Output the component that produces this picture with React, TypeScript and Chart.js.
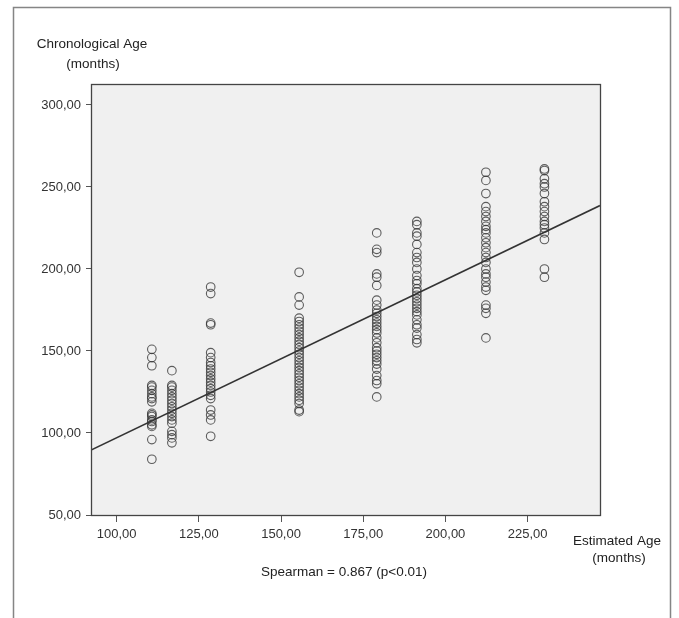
import React, { useEffect, useRef } from "react";
import { Chart, registerables } from "chart.js";

Chart.register(...registerables);

// Estimated age (months) for each group column
const estimatedAges = [110.7, 116.8, 128.6, 155.5, 179.1, 191.3, 212.3, 230.1];

// Chronological ages (months) read per column
const col1 = [151, 146, 141, 129, 128, 126, 124, 122, 121, 119, 112, 111, 110, 108, 107, 105, 104, 96, 84];
const col2 = [138, 129, 128, 126, 124, 122, 120, 118, 116, 114, 112, 110, 108, 106, 101, 99, 97, 94];
const col3 = [189, 185, 167, 166, 149, 146, 143, 141, 139, 137, 135, 133, 131, 129, 127, 125, 123, 121, 114, 111, 108, 98];
const col4 = [198, 183, 178, 170, 168, 166, 164, 162, 160, 158, 156, 154, 152, 150, 148, 146, 144, 142, 140, 138, 136, 134, 132, 130, 128, 126, 124, 122, 120, 118, 114, 113];
const col5 = [222, 212, 210, 197, 195, 190, 181, 178, 175, 173, 171, 169, 167, 165, 163, 161, 158, 155, 152, 150, 148, 146, 144, 142, 139, 135, 132, 130, 122];
const col6 = [229, 227, 222, 220, 215, 210, 207, 204, 200, 196, 193, 191, 188, 186, 184, 182, 180, 178, 176, 174, 172, 169, 166, 164, 160, 157, 155];
const col7 = [259, 254, 246, 238, 235, 232, 229, 226, 224, 222, 219, 216, 213, 210, 207, 204, 200, 197, 195, 192, 189, 187, 178, 176, 173, 158];
const col8 = [261, 260, 255, 252, 250, 246, 241, 238, 235, 232, 229, 227, 225, 222, 218, 200, 195];

const columns = [col1, col2, col3, col4, col5, col6, col7, col8];

// Fit line
const fitSlope = 0.963;
const fitIntercept = 0.8;

const xMin = 92.2;
const xMax = 247;
const yMin = 50;
const yMax = 312.8;
const xTicks = [100, 125, 150, 175, 200, 225];
const yTicks = [50, 100, 150, 200, 250, 300];

const yTitle = ["Chronological Age", "(months)"];
const xTitle = ["Estimated Age", "(months)"];
const footnote = "Spearman = 0.867 (p<0.01)";

const FONT = "'Liberation Sans', Arial, sans-serif";

const fmt = (v: number) => v.toFixed(2).replace(".", ",");

export default function App() {
  const ref = useRef<HTMLCanvasElement | null>(null);

  useEffect(() => {
    if (!ref.current) return;
    const points: { x: number; y: number }[] = [];
    columns.forEach((col, i) => {
      col.forEach((v) => points.push({ x: estimatedAges[i], y: v }));
    });
    const linePts = [
      { x: xMin, y: fitSlope * xMin + fitIntercept },
      { x: xMax, y: fitSlope * xMax + fitIntercept },
    ];

    const decor = {
      id: "decor",
      beforeDraw(chart: any) {
        const { ctx, chartArea: a } = chart;
        ctx.save();
        ctx.fillStyle = "#ffffff";
        ctx.fillRect(0, 0, chart.width, chart.height);
        // outer frame
        ctx.strokeStyle = "#858585";
        ctx.lineWidth = 1.5;
        ctx.beginPath();
        ctx.moveTo(13.5, 618);
        ctx.lineTo(13.5, 7.5);
        ctx.lineTo(670.5, 7.5);
        ctx.lineTo(670.5, 618);
        ctx.stroke();
        // plot area
        ctx.fillStyle = "#f0f0f0";
        ctx.fillRect(a.left, a.top, a.right - a.left, a.bottom - a.top);
        ctx.restore();
      },
      afterDraw(chart: any) {
        const { ctx, chartArea: a } = chart;
        ctx.save();
        ctx.strokeStyle = "#444444";
        ctx.lineWidth = 1.3;
        ctx.strokeRect(a.left + 0.5, a.top + 0.5, a.right - a.left, a.bottom - a.top);
        ctx.fillStyle = "#222";
        ctx.font = `13.5px ${FONT}`;
        ctx.textAlign = "center";
        ctx.textBaseline = "middle";
        ctx.fillText(yTitle[0], 92, 44);
        ctx.fillText(yTitle[1], 93, 64);
        ctx.fillText(xTitle[0], 617, 541);
        ctx.fillText(xTitle[1], 619, 558);
        ctx.fillText(footnote, 344, 572);
        ctx.restore();
      },
    };

    const chart = new Chart(ref.current, {
      type: "scatter",
      data: {
        datasets: [
          {
            type: "line",
            data: linePts,
            borderColor: "#333333",
            borderWidth: 1.6,
            pointRadius: 0,
            fill: false,
            order: 0,
          } as any,
          {
            data: points,
            pointRadius: 4.3,
            pointBorderWidth: 1.1,
            pointBackgroundColor: "rgba(0,0,0,0)",
            pointBorderColor: "rgba(55,55,55,0.8)",
            order: 1,
          },
        ],
      },
      plugins: [decor],
      options: {
        animation: false,
        responsive: false,
        devicePixelRatio: 1,
        layout: { padding: { top: 84, right: 79, left: 0, bottom: 73 } },
        plugins: { legend: { display: false }, tooltip: { enabled: false } },
        scales: {
          x: {
            type: "linear",
            min: xMin,
            max: xMax,
            afterBuildTicks: (s: any) => {
              s.ticks = xTicks.map((v) => ({ value: v }));
            },
            afterFit: (s: any) => {
              s.height = 30;
            },
            grid: { drawOnChartArea: false, drawTicks: true, tickLength: 7, color: "#555", lineWidth: 1 },
            border: { display: false },
            ticks: {
              color: "#333",
              padding: 5,
              maxRotation: 0,
              font: { family: FONT, size: 13 },
              callback: (v: any) => fmt(Number(v)),
            },
          },
          y: {
            type: "linear",
            min: yMin,
            max: yMax,
            afterBuildTicks: (s: any) => {
              s.ticks = yTicks.map((v) => ({ value: v }));
            },
            afterFit: (s: any) => {
              s.width = 91;
            },
            grid: { drawOnChartArea: false, drawTicks: true, tickLength: 5, color: "#555", lineWidth: 1 },
            border: { display: false },
            ticks: {
              color: "#333",
              padding: 5,
              font: { family: FONT, size: 13 },
              callback: (v: any) => fmt(Number(v)),
            },
          },
        },
      },
    });
    return () => chart.destroy();
  }, []);

  return (
    <div style={{ position: "fixed", left: 0, top: 0, width: 679, height: 618, background: "#fff" }}>
      <canvas ref={ref} width={679} height={618} style={{ width: 679, height: 618, display: "block" }} />
    </div>
  );
}
